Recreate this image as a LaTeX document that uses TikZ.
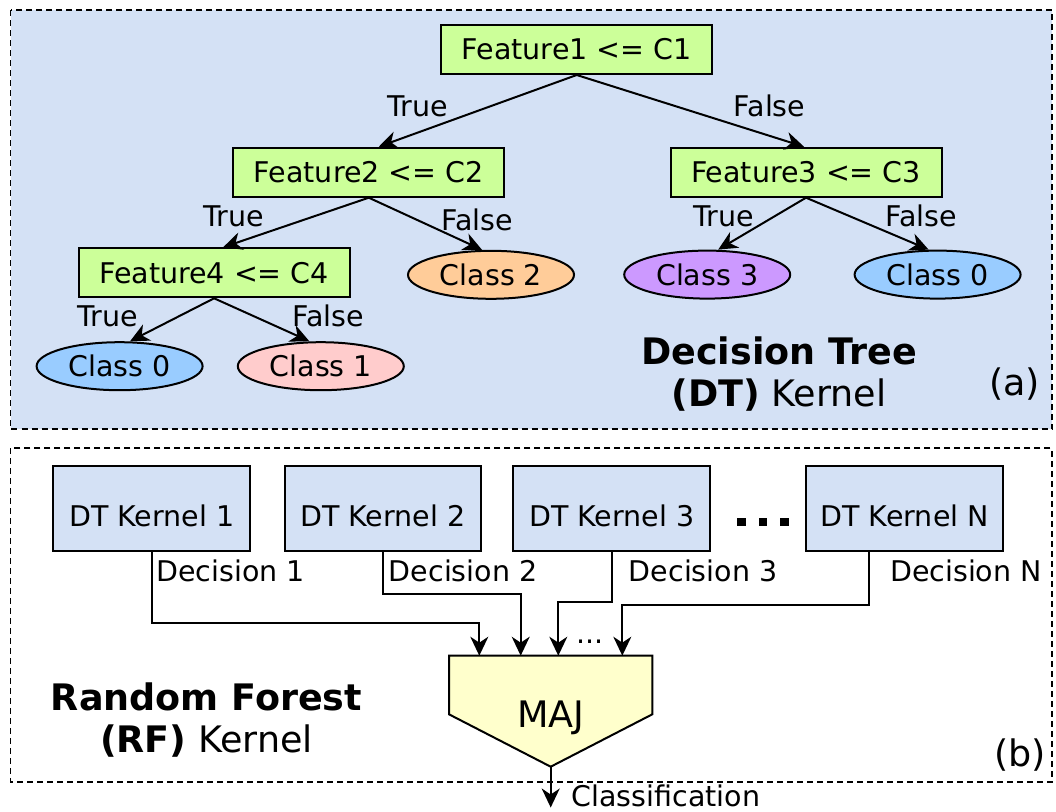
\documentclass[tikz,border=0pt]{standalone}
\usepackage{fontspec}
\setmainfont{DejaVu Sans}
\usetikzlibrary{arrows.meta,shapes.geometric}

\definecolor{panelblue}{HTML}{D4E1F5}
\definecolor{cgreen}{HTML}{CCFF99}
\definecolor{cblue}{HTML}{99CCFF}
\definecolor{cpink}{HTML}{FFCCCC}
\definecolor{corange}{HTML}{FFCC99}
\definecolor{cpurple}{HTML}{CC99FF}
\definecolor{cyellow}{HTML}{FFFFCC}

\newcommand{\fnorm}{\fontsize{28.5}{34}\selectfont}
\newcommand{\fhead}{\fontsize{36.5}{42.5}\selectfont}

\tikzset{
  panel/.style={line width=1.8pt, dash pattern=on 6pt off 4pt},
  cond/.style={draw, line width=2pt, fill=cgreen, minimum width=271pt,
    minimum height=49pt, inner sep=0pt, font=\fnorm},
  leaf/.style={ellipse, draw, line width=2pt, minimum width=166pt,
    minimum height=48pt, inner sep=0pt, font=\fnorm},
  kernel/.style={draw, line width=2pt, fill=panelblue, minimum width=196.5pt,
    minimum height=84.5pt, inner sep=0pt, text height=36.8pt, text depth=0pt,
    font=\fnorm},
  arr/.style={line width=2pt, -{Stealth[length=19pt,width=18pt,inset=6pt]}},
  lbl/.style={font=\fnorm, inner sep=0pt, anchor=base},
  head/.style={font=\fhead, align=center, inner sep=0pt},
}

\begin{document}
\begin{tikzpicture}[x=1pt,y=-1pt]
\useasboundingbox (0,0) rectangle (1056,811);

% the two dashed panels
\draw[panel, fill=panelblue] (10.5,10) rectangle (1052,429);
\draw[panel] (10.5,448.3) rectangle (1052,781.7);

% ---------- (a) decision tree ----------
\node[cond] (f1) at (576.7,49.5) {Feature1 <= C1};
\node[cond] (f2) at (368.8,172.2) {Feature2 <= C2};
\node[cond] (f3) at (806,172.2) {Feature3 <= C3};
\node[cond] (f4) at (214.1,272.8) {Feature4 <= C4};

\node[leaf, fill=cblue]   (c0a) at (119.6,366.2) {Class 0};
\node[leaf, fill=cpink]   (c1)  at (320.8,366.2) {Class 1};
\node[leaf, fill=corange] (c2)  at (491,274.8)   {Class 2};
\node[leaf, fill=cpurple] (c3)  at (707.2,274.6) {Class 3};
\node[leaf, fill=cblue]   (c0b) at (937.6,274.6) {Class 0};

\draw[arr] (f1.south) -- ([xshift=10pt]f2.north);
\draw[arr] (f1.south) -- ([xshift=-2pt]f3.north);
\draw[arr] (f2.south) -- ([xshift=9pt]f4.north);
\draw[arr] (f2.south) -- ([xshift=-9pt]c2.north);
\draw[arr] (f4.south) -- ([xshift=10.5pt]c0a.north);
\draw[arr] (f4.south) -- ([xshift=-11.5pt]c1.north);
\draw[arr] (f3.south) -- ([xshift=11pt]c3.north);
\draw[arr] (f3.south) -- ([xshift=-9pt]c0b.north);

\node[lbl] (t1) at (417.5,116.7) {True};
\node[lbl] (e1) at (769.5,116.7) {False};
\node[lbl] (t2) at (234,226.7)   {True};
\node[lbl] (e2) at (477.4,230)   {False};
\node[lbl] (t4) at (108,326.7)   {True};
\node[lbl] (e4) at (328.4,326.7) {False};
\node[lbl] (t3) at (724,226.7)   {True};
\node[lbl] (e3) at (921,226.7)   {False};

\node[head] (dt) at (779,374) {\textbf{Decision Tree}\\\textbf{(DT)} Kernel};
\node[font=\fhead, inner sep=0pt] (pa) at (1014.5,384) {(a)};

% ---------- (b) random forest ----------
\node[kernel] (k1) at (151.7,508.3) {DT Kernel 1};
\node[kernel] (k2) at (382.8,508.3) {DT Kernel 2};
\node[kernel] (k3) at (611.7,508.3) {DT Kernel 3};
\node[kernel] (kn) at (904.7,508.3) {DT Kernel N};

% ellipsis between kernel 3 and kernel N
\fill (737.4,518.3) rectangle ++(8.5,7.5);
\fill (758.8,518.3) rectangle ++(8.5,7.5);
\fill (780.1,518.3) rectangle ++(8.5,7.5);

% majority voter
\filldraw[fill=cyellow, line width=2pt, line join=miter]
  (449,655.7) -- (652.3,655.7) -- (652.3,714.3) -- (550.7,766.7) -- (449,714.3) -- cycle;
\node[anchor=base, font=\fhead, inner sep=0pt] (maj) at (550.7,727.3) {MAJ};

\coordinate (in1) at (479.3,655.7);
\coordinate (in2) at (520.7,655.7);
\coordinate (in3) at (558.3,655.7);
\coordinate (in4) at (622.3,655.7);
\coordinate (j1) at (479.3,623.3);
\coordinate (j2) at (520.7,594);
\coordinate (j3) at (558.3,601.7);
\coordinate (j4) at (622.3,605);
\coordinate (majtip) at (550.7,766.7);
\coordinate (out) at (550.7,807.5);

\draw[arr] (k1.south) |- (j1) -- (in1);
\draw[arr] (k2.south) |- (j2) -- (in2);
\draw[arr] (k3.south) |- (j3) -- (in3);
\draw[arr] ([xshift=-36pt]kn.south) |- (j4) -- (in4);
\draw[arr] (majtip) -- (out);

\node[lbl, anchor=base west] (d1) at (156,581.7)   {Decision 1};
\node[lbl, anchor=base west] (d2) at (388.7,581.7) {Decision 2};
\node[lbl, anchor=base west] (d3) at (628.7,581.7) {Decision 3};
\node[lbl, anchor=base west] (dn) at (889.9,581.7) {Decision N};
\node[lbl] (more) at (590,643.3) {...};
\node[lbl, anchor=base west] (cls) at (571.5,806.5) {Classification};

\node[head] (rf) at (206.5,719.8) {\textbf{Random Forest}\\\textbf{(RF)} Kernel};
\node[font=\fhead, inner sep=0pt] (pb) at (1020,755) {(b)};
\end{tikzpicture}
\end{document}
